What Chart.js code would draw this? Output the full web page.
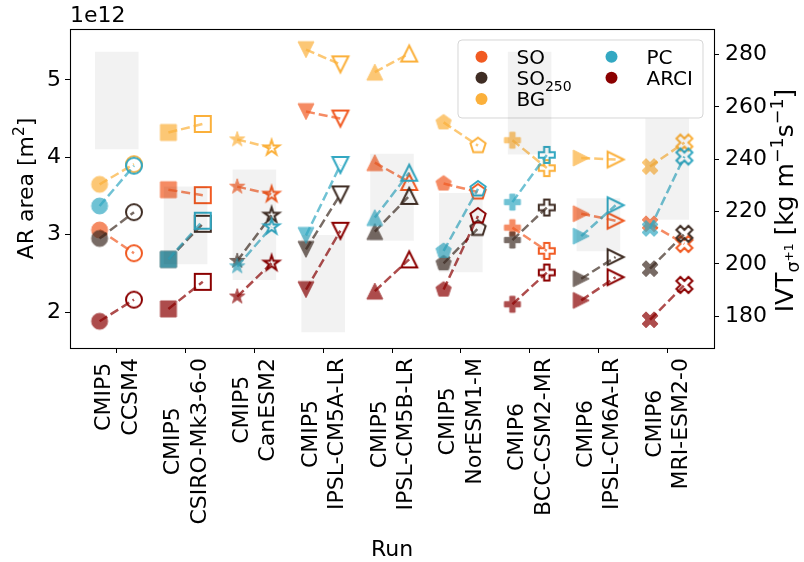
<!DOCTYPE html>
<html>
<head>
<meta charset="utf-8">
<script src="https://cdn.jsdelivr.net/npm/chart.js@4.4.1/dist/chart.umd.min.js"></script>
<style>
  html, body { margin: 0; padding: 0; background: #fff; }
  canvas { display: block; }
</style>
</head>
<body>
<canvas id="chart" width="804" height="562"></canvas>
<script>
// model runs along the x axis
const runs = ['CCSM4', 'CSIRO-Mk3-6-0', 'CanESM2', 'IPSL-CM5A-LR', 'IPSL-CM5B-LR', 'NorESM1-M', 'BCC-CSM2-MR', 'IPSL-CM6A-LR', 'MRI-ESM2-0'];
const projects = ['CMIP5', 'CMIP5', 'CMIP5', 'CMIP5', 'CMIP5', 'CMIP5', 'CMIP6', 'CMIP6', 'CMIP6'];
const runMarkers = ['circle', 'square', 'star', 'triDown', 'triUp', 'pentagon', 'plus', 'triRight', 'xFilled'];

// AR area in units of 1e12 m^2: hist = filled marker, fut = open marker
const soHist = [3.06, 3.58, 3.62, 4.59, 3.93, 3.66, 3.09, 3.27, 3.14];
const soFut = [2.76, 3.51, 3.52, 4.50, 3.68, 3.55, 2.79, 3.18, 2.88];
const so250Hist = [2.95, 2.68, 2.66, 2.81, 3.04, 2.63, 2.93, 2.43, 2.56];
const so250Fut = [3.29, 3.14, 3.25, 3.52, 3.50, 3.08, 3.35, 2.71, 3.01];
const bgHist = [3.65, 4.32, 4.23, 5.39, 5.10, 4.45, 4.22, 3.99, 3.88];
const bgFut = [3.91, 4.43, 4.12, 5.20, 5.34, 4.15, 3.86, 3.97, 4.19];
const pcHist = [3.37, 2.68, 2.59, 2.99, 3.22, 2.79, 3.42, 2.98, 3.08];
const pcFut = [3.89, 3.18, 3.10, 3.90, 3.80, 3.59, 4.03, 3.38, 4.01];
const arciHist = [1.88, 2.04, 2.20, 2.29, 2.27, 2.29, 2.10, 2.15, 1.90];
const arciFut = [2.16, 2.39, 2.63, 3.05, 2.68, 3.24, 2.51, 2.45, 2.35];

// IVT range per run [kg m-1 s-1]
const ivtLow = [244, 200, 194, 174, 209, 197, 242, 205, 217];
const ivtHigh = [281, 229.5, 236, 211, 242, 227, 281, 225, 255.5];

const areaTicks = [2, 3, 4, 5];
const ivtTicks = [180, 200, 220, 240, 260, 280];

const series = [
  { name: 'SO', color: '#f15a22', hist: soHist, fut: soFut },
  { name: 'SO250', color: '#3f2d24', hist: so250Hist, fut: so250Fut },
  { name: 'BG', color: '#fbb03b', hist: bgHist, fut: bgFut },
  { name: 'PC', color: '#33a8c2', hist: pcHist, fut: pcFut },
  { name: 'ARCI', color: '#8b0000', hist: arciHist, fut: arciFut }
];

const FONT = '"DejaVu Sans", sans-serif';
Chart.defaults.font.family = FONT;
Chart.defaults.color = '#000';

function rgba(hex, a) {
  const n = parseInt(hex.slice(1), 16);
  return `rgba(${n >> 16},${(n >> 8) & 255},${n & 255},${a})`;
}

// marker shapes, roughly the matplotlib ones
const MS = 16;
function markerPath(g, shape, r) {
  const poly = pts => { pts.forEach(([x, y], k) => k ? g.lineTo(x, y) : g.moveTo(x, y)); g.closePath(); };
  g.beginPath();
  if (shape === 'circle') g.arc(0, 0, r, 0, Math.PI * 2);
  else if (shape === 'square') g.rect(-r, -r, 2 * r, 2 * r);
  else if (shape === 'triDown') poly([[0, r], [-r, -r], [r, -r]]);
  else if (shape === 'triUp') poly([[0, -r], [-r, r], [r, r]]);
  else if (shape === 'triRight') poly([[r, 0], [-r, -r], [-r, r]]);
  else if (shape === 'pentagon') {
    const p = [];
    for (let k = 0; k < 5; k++) { const a = -Math.PI / 2 + k * 2 * Math.PI / 5; p.push([r * Math.cos(a), r * Math.sin(a)]); }
    poly(p);
  } else if (shape === 'star') {
    const p = [];
    for (let k = 0; k < 10; k++) { const a = -Math.PI / 2 + k * Math.PI / 5; const rr = k % 2 ? r * 0.381966 : r; p.push([rr * Math.cos(a), rr * Math.sin(a)]); }
    poly(p);
  } else if (shape === 'plus') {
    poly([[-1, -3], [1, -3], [1, -1], [3, -1], [3, 1], [1, 1], [1, 3], [-1, 3], [-1, 1], [-3, 1], [-3, -1], [-1, -1]].map(([x, y]) => [x * r / 3, y * r / 3]));
  } else if (shape === 'xFilled') {
    poly([[-1, -2], [0, -1], [1, -2], [2, -1], [1, 0], [2, 1], [1, 2], [0, 1], [-1, 2], [-2, 1], [-1, 0], [-2, -1]].map(([x, y]) => [x * r / 2, y * r / 2]));
  }
}

function makeMarker(shape, color, filled) {
  const size = 26;
  const base = document.createElement('canvas');
  base.width = base.height = size;
  const g = base.getContext('2d');
  g.translate(size / 2, size / 2);
  markerPath(g, shape, MS / 2);
  g.strokeStyle = color;
  if (!filled) {
    g.lineWidth = 2;
    g.stroke();
    return base;
  }
  g.fillStyle = color;
  g.fill();
  g.lineWidth = 1;
  g.stroke();
  const out = document.createElement('canvas');
  out.width = out.height = size;
  const o = out.getContext('2d');
  o.globalAlpha = 0.7;
  o.drawImage(base, 0, 0);
  return out;
}

// text with sub/superscripts: parts = [text, scale, shift in em]
function richWidth(ctx, parts, size) {
  let w = 0;
  parts.forEach(([t, sc]) => { ctx.font = `${size * sc}px ${FONT}`; w += ctx.measureText(t).width; });
  return w;
}
function drawRich(ctx, parts, x, y, size) {
  let cx = x;
  parts.forEach(([t, sc, dy]) => {
    ctx.font = `${size * sc}px ${FONT}`;
    ctx.fillText(t, cx, y + dy * size);
    cx += ctx.measureText(t).width;
  });
}
function drawRotated(ctx, parts, cx, cy, size) {
  ctx.save();
  ctx.translate(cx, cy);
  ctx.rotate(-Math.PI / 2);
  ctx.textAlign = 'left';
  ctx.textBaseline = 'alphabetic';
  const w = richWidth(ctx, parts, size);
  drawRich(ctx, parts, -w / 2, 0.36 * size, size);
  ctx.restore();
}

const datasets = [{
  type: 'bar',
  label: 'IVT',
  yAxisID: 'y2',
  order: -1,
  data: runs.map((r, i) => ({ x: i, y: [ivtLow[i], ivtHigh[i]] })),
  backgroundColor: 'rgba(0,0,0,0.05)',
  borderWidth: 0,
  barThickness: 43,
  grouped: false
}];

series.forEach((s, k) => {
  const data = [];
  const styles = [];
  runs.forEach((r, i) => {
    data.push({ x: i - 0.25, y: s.hist[i] }, { x: i + 0.25, y: s.fut[i] }, { x: i + 0.5, y: null });
    styles.push(makeMarker(runMarkers[i], s.color, true), makeMarker(runMarkers[i], s.color, false), false);
  });
  datasets.push({
    type: 'line',
    label: s.name,
    yAxisID: 'y',
    order: 10 - k,
    data,
    borderColor: rgba(s.color, 0.7),
    borderWidth: 2.5,
    borderDash: [9, 4],
    spanGaps: false,
    fill: false,
    tension: 0,
    pointRadius: 8,
    pointStyle: c => styles[c.dataIndex]
  });
});

const tickGrid = { drawOnChartArea: false, drawTicks: true, tickLength: 5, color: '#000', lineWidth: 1, offset: false };

function drawLegend(chart) {
  const ctx = chart.ctx;
  const a = chart.chartArea;
  const lw = 245, lh = 78;
  const lx = a.right - 11 - lw, ly = a.top + 11;
  ctx.save();
  ctx.beginPath();
  ctx.roundRect(lx, ly, lw, lh, 4);
  ctx.fillStyle = 'rgba(255,255,255,0.8)';
  ctx.fill();
  ctx.strokeStyle = 'rgba(204,204,204,0.8)';
  ctx.lineWidth = 1;
  ctx.stroke();
  const colX = [lx + 23.5, lx + 153.5];
  const textX = [lx + 58.5, lx + 188.5];
  const rowY = [ly + 16.7, ly + 37.7, ly + 59];
  const slots = [[0, 0], [0, 1], [0, 2], [1, 0], [1, 1]];
  const labels = [[['SO', 1, 0]], [['SO', 1, 0], ['250', 0.7, 0.28]], [['BG', 1, 0]], [['PC', 1, 0]], [['ARCI', 1, 0]]];
  ctx.textBaseline = 'alphabetic';
  ctx.textAlign = 'left';
  series.forEach((s, k) => {
    const [c, r] = slots[k];
    ctx.beginPath();
    ctx.arc(colX[c], rowY[r], 6, 0, Math.PI * 2);
    ctx.fillStyle = s.color;
    ctx.fill();
    ctx.fillStyle = '#000';
    drawRich(ctx, labels[k], textX[c], rowY[r] + 7.2, 20);
  });
  ctx.restore();
}

const decorations = {
  id: 'decorations',
  beforeDatasetDraw(chart, args) {
    // legend sits under the IVT bars
    if (args.index === 0) drawLegend(chart);
  },
  afterDraw(chart) {
    const ctx = chart.ctx;
    const a = chart.chartArea;
    const xs = chart.scales.x;
    ctx.save();
    // axes frame
    ctx.strokeStyle = '#000';
    ctx.lineWidth = 1.1;
    ctx.strokeRect(a.left + 0.5, a.top + 0.5, a.right - a.left, a.bottom - a.top);

    // run labels, rotated, two lines centred on each tick
    ctx.fillStyle = '#000';
    ctx.font = `22px ${FONT}`;
    runs.forEach((r, i) => {
      const lines = [projects[i], r];
      const w = Math.max(...lines.map(t => ctx.measureText(t).width));
      ctx.save();
      ctx.translate(xs.getPixelForValue(i), a.bottom + 10);
      ctx.rotate(-Math.PI / 2);
      ctx.textAlign = 'center';
      ctx.textBaseline = 'middle';
      lines.forEach((t, k) => ctx.fillText(t, -w / 2, (k - 0.5) * 26.4 + 1));
      ctx.restore();
    });

    // axis titles
    ctx.textAlign = 'center';
    ctx.textBaseline = 'alphabetic';
    ctx.font = `22px ${FONT}`;
    ctx.fillText('Run', (a.left + a.right) / 2, 556);
    const mid = (a.top + a.bottom) / 2;
    drawRotated(ctx, [['AR area [m', 1, 0], ['2', 0.7, -0.4], [']', 1, 0]], 25, mid, 22);
    drawRotated(ctx, [['IVT', 1, 0], ['σ', 0.7, 0.25], ['+1', 0.49, -0.02], [' [kg m', 1, 0], ['−1', 0.7, -0.4], ['s', 1, 0], ['−1', 0.7, -0.4], [']', 1, 0]], 784, mid + 12, 25);

    // scale offset of the left axis
    ctx.textAlign = 'left';
    ctx.font = `22px ${FONT}`;
    ctx.fillText('1e12', a.left, 22);
    ctx.restore();
  }
};

new Chart(document.getElementById('chart'), {
  type: 'line',
  data: { datasets },
  options: {
    responsive: false,
    devicePixelRatio: 1,
    animation: false,
    events: [],
    layout: { padding: { top: 29, left: 0, right: 0, bottom: 0 } },
    plugins: { legend: { display: false }, tooltip: { enabled: false } },
    scales: {
      x: {
        type: 'linear',
        min: -0.68,
        max: 8.68,
        offset: false,
        afterBuildTicks: sc => { sc.ticks = runs.map((r, i) => ({ value: i })); },
        afterFit: sc => { sc.height = 214; },
        grid: tickGrid,
        border: { display: false },
        ticks: { display: false }
      },
      y: {
        position: 'left',
        min: 1.535,
        max: 5.657,
        afterBuildTicks: sc => { sc.ticks = areaTicks.map(v => ({ value: v })); },
        afterFit: sc => { sc.width = 70; },
        grid: tickGrid,
        border: { display: false },
        ticks: { font: { size: 22 }, color: '#000', padding: 4 }
      },
      y2: {
        position: 'right',
        min: 167.9,
        max: 289.8,
        afterBuildTicks: sc => { sc.ticks = ivtTicks.map(v => ({ value: v })); },
        afterFit: sc => { sc.width = 90; },
        grid: tickGrid,
        border: { display: false },
        ticks: { font: { size: 22 }, color: '#000', padding: 6 }
      }
    }
  },
  plugins: [decorations]
});
</script>
</body>
</html>
